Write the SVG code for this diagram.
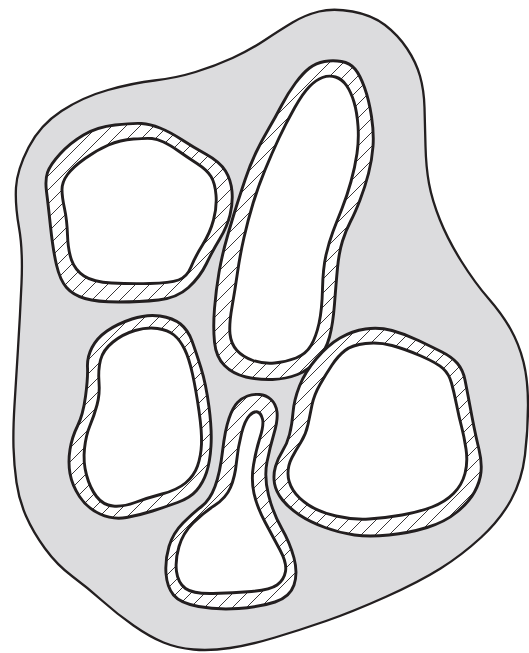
<svg xmlns="http://www.w3.org/2000/svg" width="529" height="653" viewBox="0 0 529 653">
<defs>
<pattern id="hatch" patternUnits="userSpaceOnUse" width="14" height="14">
<rect width="14" height="14" fill="#fff"/>
<path d="M0,14 L14,0 M-3,3 L3,-3 M11,17 L17,11" stroke="#231f20" stroke-width="0.9"/>
</pattern>
<style>
.blob{fill:#dcdcde;stroke:#231f20;stroke-width:2.3;stroke-linejoin:round}
.outer{fill:url(#hatch);stroke:#231f20;stroke-width:2.9;stroke-linejoin:round}
.inner{fill:#fff;stroke:#231f20;stroke-width:2.9;stroke-linejoin:round}
</style>
</defs>
<rect width="529" height="653" fill="#fff"/>
<g id="body">
<path class="blob" d="M319,11.5 Q333,8 352.5,11.5 Q372,15 385,25 Q398,35 407,48.5 Q416,62 420,76 Q424,90 424.5,107.5 Q425,125 425.5,146 Q426,167 429,183.5 Q432,200 440,220 Q448,240 461.5,261.5 Q475,283 488.5,298.5 Q502,314 510.5,329 Q519,344 523.5,362 Q528,380 528,405 Q528,430 525,455 Q522,480 511,500 Q500,520 481,537.5 Q462,555 440.5,568.5 Q419,582 385.5,597 Q352,612 326,621 Q300,630 275,637.5 Q250,645 230,648 Q210,651 193.5,649.5 Q177,648 163.5,642.5 Q150,637 133.5,625.5 Q117,614 102.5,601 Q88,588 72.5,576.5 Q57,565 45,548.5 Q33,532 26,516 Q19,500 16.5,482.5 Q14,465 13.5,447.5 Q13,430 14.5,405 Q16,380 18,348.5 Q20,317 21.5,283.5 Q23,250 19,227.5 Q15,205 16,187.5 Q17,170 28.5,147.5 Q40,125 61.5,111 Q83,97 108,90 Q133,83 154.5,80.5 Q176,78 195.5,72 Q215,66 232.5,58 Q250,50 265,40 Q280,30 292.5,22.5 Q305,15 319,11.5 Z"/>
</g>
<g id="cell-a">
<path class="outer" d="M115,125 Q133,123 141.5,123.5 Q150,124 160,128 Q170,132 181.5,139.5 Q193,147 206.5,154.5 Q220,162 225.5,171 Q231,180 232,191.5 Q233,203 230,215 Q227,227 220,238.5 Q213,250 206.5,263.5 Q200,277 188.5,287.5 Q177,298 158.5,300 Q140,302 118.5,302 Q97,302 85,298.5 Q73,295 66.5,287.5 Q60,280 56.5,265 Q53,250 50.5,226.5 Q48,203 46.5,191.5 Q45,180 47.5,172.5 Q50,165 60,154 Q70,143 83.5,135 Q97,127 115,125 Z"/>
<path class="inner" d="M133.5,139 Q147,138 152,138.5 Q157,139 163.5,142 Q170,145 178.5,151 Q187,157 197,163.5 Q207,170 211,176.5 Q215,183 216,195 Q217,207 213.5,220 Q210,233 202.5,245 Q195,257 191,267 Q187,277 178.5,280 Q170,283 150,283.5 Q130,284 111.5,283 Q93,282 84,276 Q75,270 71.5,260 Q68,250 67.5,235 Q67,220 64.5,208.5 Q62,197 62,189.5 Q62,182 67.5,174.5 Q73,167 85,158.5 Q97,150 108.5,145 Q120,140 133.5,139 Z"/>
</g>
<g id="cell-b">
<path class="outer" d="M324.5,61.5 Q333,60 341.5,61.5 Q350,63 355,69 Q360,75 364.5,87.5 Q369,100 371.5,116.5 Q374,133 373,146.5 Q372,160 368.5,173.5 Q365,187 360,200 Q355,213 350.5,221.5 Q346,230 342.5,241 Q339,252 337.5,268 Q336,284 334.5,304 Q333,324 329.5,337 Q326,350 317.5,360 Q309,370 297.5,374.5 Q286,379 272.5,379.5 Q259,380 246,377 Q233,374 224.5,365.5 Q216,357 214.5,342 Q213,327 214.5,308.5 Q216,290 219,272.5 Q222,255 227.5,236 Q233,217 236.5,206 Q240,195 245,180 Q250,165 256,152.5 Q262,140 268.5,129 Q275,118 281.5,105.5 Q288,93 295.5,83 Q303,73 309.5,68 Q316,63 324.5,61.5 Z"/>
<path class="inner" d="M322.5,77.5 Q329,75 335.5,77 Q342,79 346.5,85.5 Q351,92 354,102 Q357,112 358,126 Q359,140 357,153.5 Q355,167 351,181.5 Q347,196 342,208.5 Q337,221 333,231.5 Q329,242 326,255 Q323,268 322.5,289 Q322,310 319,323.5 Q316,337 311,345.5 Q306,354 296,358 Q286,362 274.5,363 Q263,364 253,360.5 Q243,357 237,350.5 Q231,344 230,334 Q229,324 232,307 Q235,290 237.5,272.5 Q240,255 244,237.5 Q248,220 253,203.5 Q258,187 265,170 Q272,153 279,138 Q286,123 294.5,108 Q303,93 309.5,86.5 Q316,80 322.5,77.5 Z"/>
</g>
<g id="cell-c">
<path class="outer" d="M132,319 Q147,314 160,316 Q173,318 180.5,324 Q188,330 192,341 Q196,352 201,368 Q206,384 209,407 Q212,430 211,446 Q210,462 206.5,472.5 Q203,483 196.5,490.5 Q190,498 177.5,502.5 Q165,507 152.5,511 Q140,515 126.5,517.5 Q113,520 100,514 Q87,508 79.5,496.5 Q72,485 70,473.5 Q68,462 70,449.5 Q72,437 77.5,426 Q83,415 85.5,396.5 Q88,378 87.5,367.5 Q87,357 92,347.5 Q97,338 107,331 Q117,324 132,319 Z"/>
<path class="inner" d="M135,330.5 Q147,327 157.5,328.5 Q168,330 174,335 Q180,340 184.5,349 Q189,358 192.5,374 Q196,390 199,411 Q202,432 201.5,444 Q201,456 197.5,466 Q194,476 185.5,483 Q177,490 162,494 Q147,498 135,502.5 Q123,507 113,506 Q103,505 96.5,496.5 Q90,488 86.5,475 Q83,462 84.5,448.5 Q86,435 90,425.5 Q94,416 97,405 Q100,394 99,382 Q98,370 100.5,360 Q103,350 113,342 Q123,334 135,330.5 Z"/>
</g>
<g id="cell-d">
<path class="outer" d="M247.5,396 Q253,394 259.5,394.5 Q266,395 271,399.5 Q276,404 277,412 Q278,420 274,433.5 Q270,447 267,462 Q264,477 268.5,495 Q273,513 281.5,528 Q290,543 294,558 Q298,573 294,585 Q290,597 275,602 Q260,607 238.5,608.5 Q217,610 198.5,606.5 Q180,603 173.5,595 Q167,587 166,573.5 Q165,560 169,546.5 Q173,533 183,523 Q193,513 201.5,506.5 Q210,500 215,486.5 Q220,473 222.5,451.5 Q225,430 229,418.5 Q233,407 237.5,402.5 Q242,398 247.5,396 Z"/>
<path class="inner" d="M249.5,415.5 Q254,411 257.5,412 Q261,413 262.5,419 Q264,425 260,437.5 Q256,450 253.5,465 Q251,480 254,493.5 Q257,507 265,522 Q273,537 280,550 Q287,563 285.5,571.5 Q284,580 277,585 Q270,590 251.5,591.5 Q233,593 213,593.5 Q193,594 185.5,588.5 Q178,583 176.5,571.5 Q175,560 179,546.5 Q183,533 193,523 Q203,513 214.5,505.5 Q226,498 230.5,487.5 Q235,477 236.5,462 Q238,447 241.5,433.5 Q245,420 249.5,415.5 Z"/>
</g>
<g id="cell-e">
<path class="outer" d="M340,338 Q352,331 365.5,329 Q379,327 392,330.5 Q405,334 418.5,340.5 Q432,347 442,352 Q452,357 457.5,363.5 Q463,370 465,380 Q467,390 469.5,403.5 Q472,417 474,427 Q476,437 479,449.5 Q482,462 481,472 Q480,482 474.5,492 Q469,502 457,512 Q445,522 427,527.5 Q409,533 389,535 Q369,537 354.5,535 Q340,533 325,527.5 Q310,522 299.5,515 Q289,508 282.5,500 Q276,492 274.5,483.5 Q273,475 275.5,466.5 Q278,458 282.5,451 Q287,444 289.5,434.5 Q292,425 293,412.5 Q294,400 299.5,386 Q305,372 316.5,358.5 Q328,345 340,338 Z"/>
<path class="inner" d="M345,350.5 Q352,345 365.5,343.5 Q379,342 392,345.5 Q405,349 421,356 Q437,363 443,368.5 Q449,374 451.5,383 Q454,392 456.5,404.5 Q459,417 461.5,426.5 Q464,436 466,449 Q468,462 465,473.5 Q462,485 453.5,493.5 Q445,502 432,507 Q419,512 402,515 Q385,518 369,519 Q353,520 336,516 Q319,512 308.5,505 Q298,498 293,490 Q288,482 288,473.5 Q288,465 292,457.5 Q296,450 301,442 Q306,434 308,424.5 Q310,415 312,405 Q314,395 320,384.5 Q326,374 332,365 Q338,356 345,350.5 Z"/>
</g>
</svg>
